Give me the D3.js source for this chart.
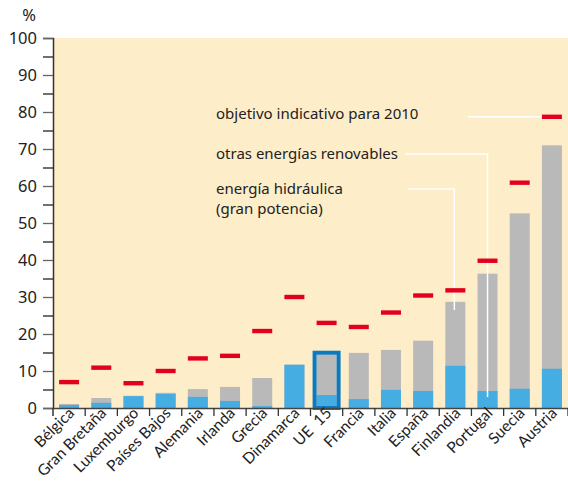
<!DOCTYPE html>
<html>
<head>
<meta charset="utf-8">
<script src="https://cdn.jsdelivr.net/npm/d3@7"></script>
<style>
  body { margin: 0; background: #fff; }
  text { font-family: "Noto Sans", sans-serif; fill: #222; }
</style>
</head>
<body>
<div id="chart"></div>
<script>
// data
var countries = ["Bélgica", "Gran Bretaña", "Luxemburgo", "Países Bajos", "Alemania", "Irlanda",
  "Grecia", "Dinamarca", "UE  15", "Francia", "Italia", "España", "Finlandia", "Portugal", "Suecia", "Austria"];
var hydro = [0.8, 1.4, 3.2, 3.8, 3.0, 1.9, 0.5, 11.7, 3.5, 2.4, 4.9, 4.6, 11.4, 4.6, 5.2, 10.6];
var total = [1.1, 2.7, 3.3, 4.1, 5.1, 5.7, 8.1, 11.7, 14.4, 14.9, 15.7, 18.2, 28.7, 36.3, 52.6, 71.0];
var target = [7.0, 10.9, 6.7, 10.0, 13.4, 14.1, 20.8, 30.0, 23.0, 21.9, 25.8, 30.4, 31.8, 39.8, 60.9, 78.7];
var yTicks = [0, 10, 20, 30, 40, 50, 60, 70, 80, 90, 100];

var margin = { top: 38, right: 0, bottom: 73, left: 53 },
  width = 568 - margin.left - margin.right,
  height = 481 - margin.top - margin.bottom;

var svg = d3.select("#chart").append("svg")
  .attr("width", 568).attr("height", 481)
  .append("g")
  .attr("transform", "translate(" + margin.left + "," + margin.top + ")");

var x = d3.scaleBand().domain(countries).range([0, width]);
var y = d3.scaleLinear().domain([0, 100]).range([height, 0]);
var barW = 20;

// background
svg.append("rect").attr("x", 0).attr("y", 0).attr("width", width).attr("height", height)
  .attr("fill", "#fdedc9");

// gray (total) bars
svg.selectAll(".tot").data(countries).enter().append("rect")
  .attr("x", function (d) { return x(d) + (x.bandwidth() - barW) / 2; })
  .attr("y", function (d, i) { return y(total[i]); })
  .attr("width", barW)
  .attr("height", function (d, i) { return y(0) - y(total[i]); })
  .attr("fill", "#b9b9b9");

// blue (hydro) bars
svg.selectAll(".hyd").data(countries).enter().append("rect")
  .attr("x", function (d) { return x(d) + (x.bandwidth() - barW) / 2; })
  .attr("y", function (d, i) { return y(hydro[i]); })
  .attr("width", barW)
  .attr("height", function (d, i) { return y(0) - y(hydro[i]); })
  .attr("fill", "#46ade3");

// UE 15 outline
var ue = countries.indexOf("UE  15");
svg.append("rect")
  .attr("x", x(countries[ue]) + (x.bandwidth() - barW) / 2 - 2)
  .attr("y", y(total[ue]) - 2)
  .attr("width", barW + 4)
  .attr("height", y(0) - y(total[ue]) + 2)
  .attr("fill", "none")
  .attr("stroke", "#0a7bc2")
  .attr("stroke-width", 4);

// leader lines
function cx(name) { return x(name) + x.bandwidth() / 2; }
var leaders = svg.append("g").attr("fill", "none").attr("stroke", "#fff").attr("stroke-width", 1.5);
leaders.append("path").attr("d", "M" + (468 - margin.left) + "," + y(78.7) + "H" + cx("Austria"));
leaders.append("path").attr("d", "M" + (405 - margin.left) + "," + (154 - margin.top) +
  "H" + cx("Portugal") + "V" + y(3));
leaders.append("path").attr("d", "M" + (408 - margin.left) + "," + (189 - margin.top) +
  "H" + (cx("Finlandia") - 1) + "V" + y(26.5));

// target dashes
svg.selectAll(".tgt").data(countries).enter().append("rect")
  .attr("x", function (d) { return x(d) + (x.bandwidth() - barW) / 2; })
  .attr("y", function (d, i) { return y(target[i]) - 2.2; })
  .attr("width", barW)
  .attr("height", 4.4)
  .attr("fill", "#e2001f");

// Y axis
var yAxis = svg.append("g")
  .call(d3.axisLeft(y).tickValues(d3.range(0, 101, 5)).tickSize(10)
    .tickFormat(function (d) { return yTicks.indexOf(d) >= 0 ? d : ""; }));
yAxis.select(".domain").attr("stroke", "#333").attr("stroke-width", 1.5);
yAxis.selectAll(".tick line").attr("stroke", function (d) { return d % 10 === 0 ? "#666" : "#222"; })
  .attr("stroke-width", 1.3);
yAxis.selectAll(".tick text").style("font-size", "16.5px").attr("x", -16).attr("fill", "#222");

svg.append("text").attr("x", 29 - margin.left).attr("y", 21 - margin.top)
  .attr("text-anchor", "middle").style("font-size", "16.5px").text("%");

// X axis
var xAxis = svg.append("g").attr("transform", "translate(0," + height + ")")
  .call(d3.axisBottom(x).tickSize(0));
xAxis.select(".domain").attr("stroke", "#444").attr("stroke-width", 1.5);
xAxis.selectAll(".tick text")
  .style("font-family", "Lato, sans-serif")
  .style("font-size", "15.5px").style("white-space", "pre").attr("fill", "#222")
  .attr("dy", 0).attr("y", 0)
  .attr("transform", "translate(6,6)rotate(-45)")
  .style("text-anchor", "end");
// boundary ticks between categories
svg.append("g").selectAll("line").data(countries).enter().append("line")
  .attr("x1", function (d) { return x(d) + x.bandwidth(); })
  .attr("x2", function (d) { return x(d) + x.bandwidth(); })
  .attr("y1", height).attr("y2", height + 8)
  .attr("stroke", "#333").attr("stroke-width", 1.3);
svg.append("line").attr("x1", 0).attr("x2", 0).attr("y1", height).attr("y2", height + 8)
  .attr("stroke", "#333").attr("stroke-width", 1.5);

// legend labels
var leg = svg.append("g").style("font-size", "15px");
leg.append("text").attr("x", 216 - margin.left).attr("y", 119 - margin.top).text("objetivo indicativo para 2010");
leg.append("text").attr("x", 216 - margin.left).attr("y", 159 - margin.top).text("otras energías renovables");
leg.append("text").attr("x", 216 - margin.left).attr("y", 194 - margin.top).text("energía hidráulica");
leg.append("text").attr("x", 216 - margin.left).attr("y", 214 - margin.top).text("(gran potencia)");
</script>
</body>
</html>
